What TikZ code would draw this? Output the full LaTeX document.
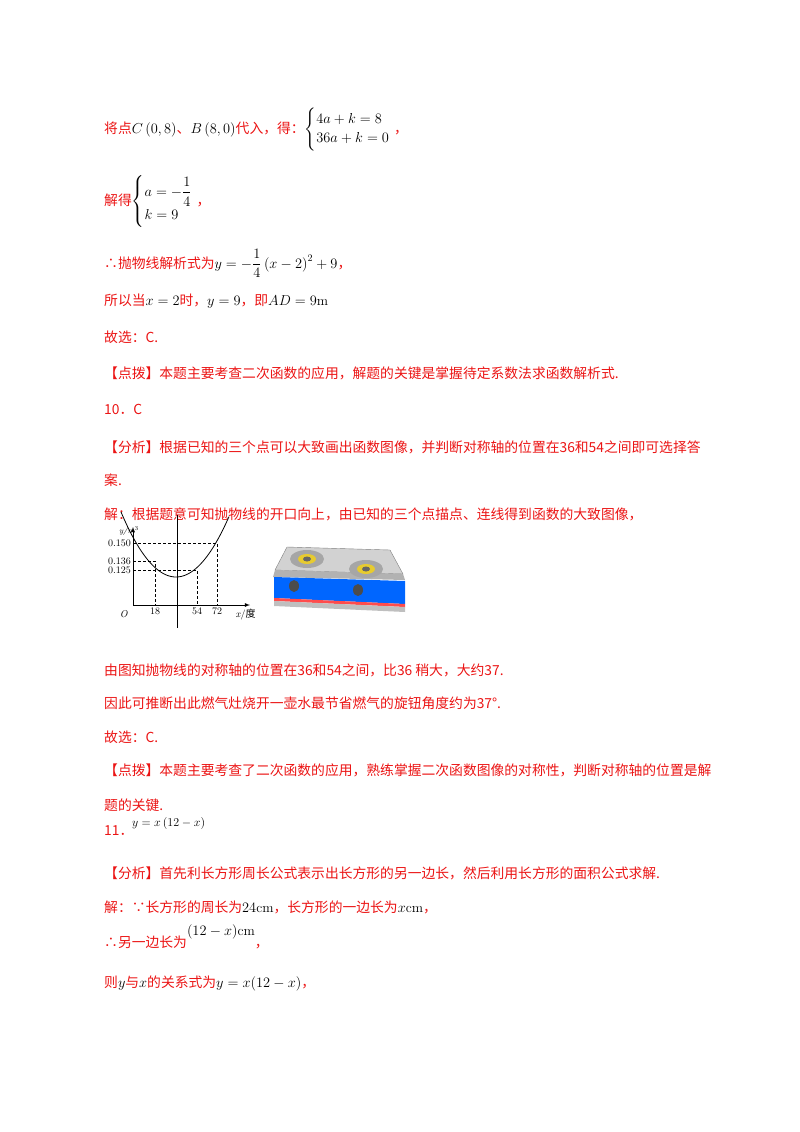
\documentclass[tikz,border=0pt]{standalone}
\usepackage{fontspec}
\usepackage{amsmath}
\newfontfamily\cjk{Noto Sans CJK SC}
\definecolor{rd}{RGB}{235,20,20}
\begin{document}
\begin{tikzpicture}[x=1pt,y=-1pt,
 t/.style={anchor=base west,inner sep=0pt,font=\cjk\fontsize{13.8}{16}\selectfont,text=rd},
 m/.style={anchor=base west,inner sep=0pt,font=\fontsize{13}{16}\selectfont,text=black},
 ax/.style={thick,-latex},
 dl/.style={densely dashed,thin}]
\useasboundingbox (0,0) rectangle (800,1132);
\node[t] (l1) at (104,133) {将点\textcolor{black}{$C\left(0,8\right)$}、\textcolor{black}{$B\left(8,0\right)$}代入，得：\textcolor{black}{$\begin{cases}4a+k=8\\36a+k=0\end{cases}$}\hspace{-10pt}，};
\node[t] (l2) at (104,205) {解得\textcolor{black}{$\begin{cases}a=-\dfrac14\\[4pt] k=9\end{cases}$}\hspace{-10pt}，};
\node[t] (l3) at (104,268) {∴抛物线解析式为\textcolor{black}{$y=-\dfrac14\left(x-2\right)^2+9$}，};
\node[t] (l4) at (104,305) {所以当\textcolor{black}{$x=2$}时，\textcolor{black}{$y=9$}，即\textcolor{black}{$AD=9\mathrm{m}$}};
\node[t] (l5) at (104,342) {故选：C.};
\node[t] (l6) at (104,378) {【点拨】本题主要考查二次函数的应用，解题的关键是掌握待定系数法求函数解析式.};
\node[t] (l7) at (104,414) {10．C};
\node[t] (l8) at (104,452) {【分析】根据已知的三个点可以大致画出函数图像，并判断对称轴的位置在36和54之间即可选择答};
\node[t] (l9) at (104,485) {案.};
\node[t] (l10) at (104,519) {解：根据题意可知抛物线的开口向上，由已知的三个点描点、连线得到函数的大致图像，};
% graph
\coordinate (O) at (133,605);
\draw[ax] (O) -- (133,527) coordinate (ya);
\draw[ax] (O) -- (250,605) coordinate (xa);
\node[font=\fontsize{8}{8}\selectfont\itshape,anchor=base east,inner sep=0pt] (yl) at (139,533) {y/m$^3$};
\node[font=\fontsize{10}{10}\selectfont\itshape,anchor=north east] (Ol) at (131,607) {O};
\node[font=\fontsize{10}{10}\selectfont,anchor=north west] (xl) at (232,606) {\textit{x}/\cjk 度};
\draw (177,515) -- (177,628);
\draw[thick,domain=121:229,samples=60] plot (\x,{577-0.0215*(\x-176)*(\x-176)});
\draw[dl] (133,543) -- (217,543) -- (217,605);
\draw[dl] (133,561) -- (155,561) -- (155,605);
\draw[dl] (133,570) -- (197,570) -- (197,605);
\foreach \v/\yy in {0.150/543,0.136/561,0.125/570}
  \node[font=\fontsize{10}{10}\selectfont,anchor=east,inner sep=1pt] at (132,\yy) {\v};
\foreach \v/\xx in {18/155,54/197,72/217}
  \node[font=\fontsize{10}{10}\selectfont,anchor=north,inner sep=2pt] at (\xx,606) {\v};
% stove
\fill[gray!35] (287,547) -- (390,550) -- (403,574) -- (275,570) -- cycle;
\draw[gray] (287,547) -- (390,550) -- (403,574) -- (275,570) -- cycle;
\fill[gray!60] (275,570) -- (403,574) -- (405,580) -- (273,577) -- cycle;
\fill[blue!60!cyan] (274,577) -- (405,581) -- (405,604) -- (274,598) -- cycle;
\fill[red!70] (274,598) -- (405,604) -- (405,607) -- (274,601) -- cycle;
\fill[gray!50] (274,601) -- (405,607) -- (405,612) -- (274,606) -- cycle;
\foreach \cx/\cy in {307/559,366/569}{
  \fill[gray!70] (\cx,\cy) ellipse (17 and 9);
  \fill[yellow!60!brown] (\cx,\cy) ellipse (9 and 5);
  \fill[gray!80!black] (\cx,\cy) ellipse (4 and 2.5);}
\fill[black!70] (294,586) ellipse (5 and 6);
\fill[black!70] (358,590) ellipse (5 and 6);
% text continued
\node[t] (l11) at (104,675) {由图知抛物线的对称轴的位置在36和54之间，比36 稍大，大约37.};
\node[t] (l12) at (104,708) {因此可推断出此燃气灶烧开一壶水最节省燃气的旋钮角度约为37°.};
\node[t] (l13) at (104,742) {故选：C.};
\node[t] (l14) at (104,775) {【点拨】本题主要考查了二次函数的应用，熟练掌握二次函数图像的对称性，判断对称轴的位置是解};
\node[t] (l15) at (104,810) {题的关键.};
\node[t] (l16) at (104,835) {11．};
\node[m] (l16m) at (132,826) {$y=x\left(12-x\right)$};
\node[t] (l17) at (104,878) {【分析】首先利长方形周长公式表示出长方形的另一边长，然后利用长方形的面积公式求解.};
\node[t] (l18) at (104,912) {解：∵长方形的周长为\textcolor{black}{$24\mathrm{cm}$}，长方形的一边长为\textcolor{black}{$x\mathrm{cm}$}，};
\node[t] (l19) at (104,947) {∴另一边长为\textcolor{black}{\raisebox{12pt}{$(12-x)\mathrm{cm}$}}，};
\node[t] (l20) at (104,987) {则\textcolor{black}{$y$}与\textcolor{black}{$x$}的关系式为\textcolor{black}{$y=x(12-x)$}，};
\end{tikzpicture}
\end{document}
